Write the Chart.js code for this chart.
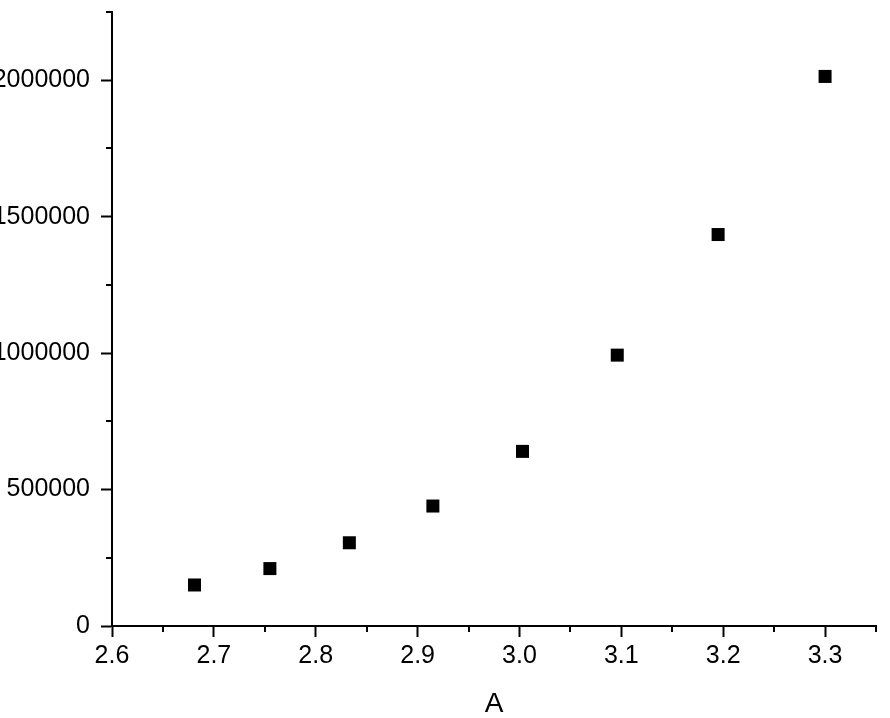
<!DOCTYPE html>
<html>
<head>
<meta charset="utf-8">
<script src="https://cdn.jsdelivr.net/npm/chart.js@4/dist/chart.umd.min.js"></script>
<style>
  html, body { margin: 0; padding: 0; background: #fff; overflow: hidden; }
  #wrap { width: 890px; height: 718px; position: relative; }
</style>
</head>
<body>
<div id="wrap"><canvas id="c"></canvas></div>
<script>
// ---- data ----
const xValues = [2.681, 2.755, 2.833, 2.915, 3.003, 3.096, 3.195, 3.300];
const yValues = [150300, 210400, 305000, 439600, 639900, 992600, 1434500, 2013900];
const xTitle = 'A';
// ---- tick labels ----
const xTicks = [2.6, 2.7, 2.8, 2.9, 3.0, 3.1, 3.2, 3.3];
const yTicks = [0, 500000, 1000000, 1500000, 2000000];
const xMinorTicks = [2.65, 2.75, 2.85, 2.95, 3.05, 3.15, 3.25, 3.35];
const yMinorTicks = [250000, 750000, 1250000, 1750000, 2250000];
const xMin = 2.6, xMax = 3.35;
const yMin = 0, yMax = 2250000;

const points = xValues.map((x, i) => ({ x: x, y: yValues[i] }));
const FONT = 'Liberation Sans, Arial, sans-serif';

const minorTicks = {
  id: 'minorTicks',
  afterDraw(chart) {
    const ctx = chart.ctx;
    const xs = chart.scales.x, ys = chart.scales.y;
    ctx.save();
    ctx.strokeStyle = '#000';
    ctx.lineWidth = 2;
    ctx.beginPath();
    const axisY = Math.round(ys.bottom);
    xMinorTicks.forEach(v => {
      const px = Math.round(xs.getPixelForValue(v));
      ctx.moveTo(px, axisY);
      ctx.lineTo(px, axisY + 6);
    });
    const axisX = Math.round(xs.left);
    yMinorTicks.forEach(v => {
      const py = Math.round(ys.getPixelForValue(v));
      ctx.moveTo(axisX, py);
      ctx.lineTo(axisX - 6, py);
    });
    ctx.stroke();
    ctx.restore();
  }
};

new Chart(document.getElementById('c'), {
  type: 'scatter',
  data: {
    datasets: [{
      data: points,
      pointStyle: 'rect',
      pointRadius: 9.2,
      pointHoverRadius: 9.2,
      pointBorderWidth: 0,
      backgroundColor: '#000',
      borderColor: '#000'
    }]
  },
  options: {
    responsive: true,
    maintainAspectRatio: false,
    animation: false,
    layout: { padding: { top: 12, right: 14, left: 0, bottom: 0 } },
    plugins: { legend: { display: false }, tooltip: { enabled: false } },
    scales: {
      x: {
        type: 'linear',
        min: xMin, max: xMax,
        afterBuildTicks(s) { s.ticks = xTicks.map(v => ({ value: v })); },
        afterFit(s) { s.height = 92; s.paddingLeft = 0; s.paddingRight = 0; },
        border: { display: true, color: '#000', width: 2 },
        grid: { drawOnChartArea: false, drawTicks: true, tickLength: 11, tickColor: '#000', tickWidth: 2 },
        ticks: {
          autoSkip: false, maxRotation: 0, minRotation: 0,
          padding: 4, color: '#000',
          font: { family: FONT, size: 25 },
          callback: v => Number(v).toFixed(1)
        },
        title: {
          display: true, text: xTitle, color: '#000',
          font: { family: FONT, size: 28, lineHeight: 0.95 },
          padding: { top: 0, bottom: 0 }
        }
      },
      y: {
        type: 'linear',
        min: yMin, max: yMax,
        afterBuildTicks(s) { s.ticks = yTicks.map(v => ({ value: v })); },
        afterFit(s) { s.width = 112; s.paddingTop = 0; s.paddingBottom = 0; },
        border: { display: true, color: '#000', width: 2 },
        grid: { drawOnChartArea: false, drawTicks: true, tickLength: 11, tickColor: '#000', tickWidth: 2 },
        ticks: {
          autoSkip: false,
          padding: 11, color: '#000',
          font: { family: FONT, size: 25 },
          callback: v => String(Math.round(v))
        }
      }
    }
  },
  plugins: [minorTicks]
});
</script>
</body>
</html>
